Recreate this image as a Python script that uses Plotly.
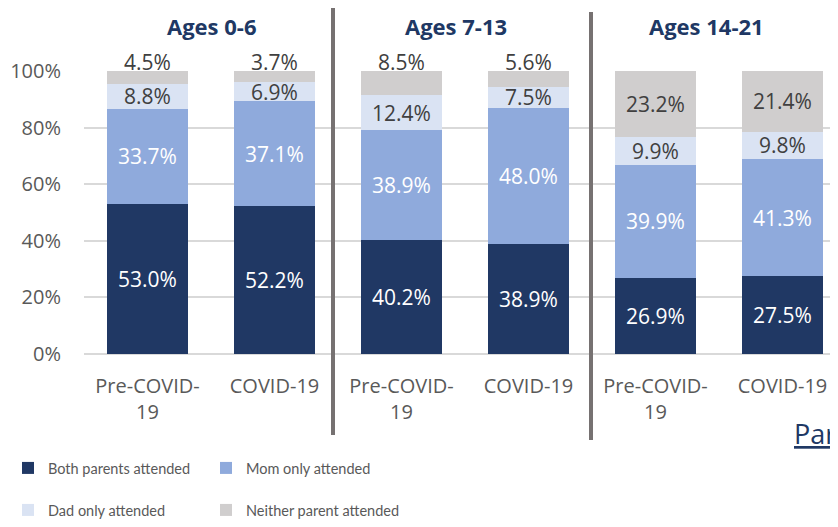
import plotly.graph_objects as go

groups = ["Ages 0-6", "Ages 7-13", "Ages 14-21"]
periods = ["Pre-COVID-<br>19", "COVID-19"]
tick_labels = [p for g in groups for p in periods]
x_pos = list(range(len(tick_labels)))
y_ticks = [0, 20, 40, 60, 80, 100]
y_tick_labels = ["0%", "20%", "40%", "60%", "80%", "100%"]

both = [53.0, 52.2, 40.2, 38.9, 26.9, 27.5]
mom = [33.7, 37.1, 38.9, 48.0, 39.9, 41.3]
dad = [8.8, 6.9, 12.4, 7.5, 9.9, 9.8]
neither = [4.5, 3.7, 8.5, 5.6, 23.2, 21.4]
# which "Neither" labels sit above the bar instead of inside it
neither_above = [True, True, True, True, False, False]

series = [
    ("Both parents attended", both, "#203864", "white", "legend"),
    ("Mom only attended", mom, "#8faadc", "white", "legend"),
    ("Dad only attended", dad, "#dae3f3", "#404040", "legend2"),
    ("Neither parent attended", neither, "#d0cece", "#404040", "legend2"),
]

FONT = "Open Sans, Lato, sans-serif"
LEG_FONT = "Lato, Open Sans, sans-serif"

fig = go.Figure()
for name, vals, col, tcol, leg in series:
    if vals is neither:
        labels = ["" if a else "%.1f%%" % v for v, a in zip(vals, neither_above)]
    else:
        labels = ["%.1f%%" % v for v in vals]
    fig.add_trace(go.Bar(
        x=x_pos, y=vals, name=name, marker=dict(color=col, line=dict(width=0)),
        text=labels, textposition="inside",
        insidetextanchor="middle", constraintext="none",
        insidetextfont=dict(color=tcol, size=21, family=FONT),
        cliponaxis=False, legend=leg, hoverinfo="skip",
    ))

# page body has an 8px margin: figure coords = screen coords - 8
OFF = 8
W, H = 838, 527
L, R, T = 84 - OFF, 0, 71 - OFF
B = H - (354 - OFF)
pw, ph = W - L - R, H - T - B

def px(xp):
    return (xp - OFF - L) / pw

def py(yp):
    return (H - B - (yp - OFF)) / ph

shapes = [
    dict(type="line", xref="paper", yref="paper", x0=px(333), x1=px(333), y0=py(5), y1=py(435),
         line=dict(color="#767171", width=4)),
    dict(type="line", xref="paper", yref="paper", x0=px(591), x1=px(591), y0=py(12), y1=py(440),
         line=dict(color="#767171", width=4)),
]

title_x = [212, 456, 706]
annotations = [
    dict(text="<b>%s</b>" % g, xref="paper", yref="paper", x=px(tx), y=py(OFF + 1),
         showarrow=False, xanchor="center", yanchor="top",
         font=dict(size=22, color="#203864", family=FONT))
    for g, tx in zip(groups, title_x)
]
# labels of thin top segments, placed just above the stack
for i, above in enumerate(neither_above):
    if above:
        total = both[i] + mom[i] + dad[i] + neither[i]
        annotations.append(dict(text="%.1f%%" % neither[i], x=x_pos[i], y=total,
                                xref="x", yref="y", showarrow=False,
                                xanchor="center", yanchor="middle", yshift=9,
                                font=dict(size=21, color="#404040", family=FONT)))
annotations.append(dict(text="<u>Par</u>", xref="paper", yref="paper", x=px(838), y=py(433),
                        showarrow=False, xanchor="right", yanchor="middle",
                        font=dict(size=27, color="#203864", family=FONT)))

leg_common = dict(orientation="h", xref="container", yref="container",
                  xanchor="left", yanchor="middle", traceorder="normal",
                  entrywidth=153, entrywidthmode="pixels",
                  font=dict(size=14.5, color="#595959", family=LEG_FONT),
                  bgcolor="rgba(0,0,0,0)")

fig.update_layout(
    width=W, height=H, margin=dict(l=L, r=R, t=T, b=B, autoexpand=False),
    barmode="stack", bargap=0.36,
    plot_bgcolor="white", paper_bgcolor="white",
    font=dict(family=FONT, color="#595959"),
    xaxis=dict(range=[-0.5, -0.5 + pw / 127.0], tickvals=x_pos, ticktext=tick_labels,
               showgrid=False, zeroline=False, showline=False, ticks="", automargin=False,
               tickfont=dict(size=20, color="#595959", family=FONT), ticklabelstandoff=18),
    yaxis=dict(range=[0, 100], tickvals=y_ticks, ticktext=y_tick_labels,
               showgrid=True, gridcolor="#d9d9d9", gridwidth=1.5,
               zeroline=True, zerolinecolor="#d9d9d9", zerolinewidth=1.5,
               showline=False, ticks="", ticklabelstandoff=22, automargin=False,
               tickfont=dict(size=20, color="#595959", family=FONT)),
    legend=dict(leg_common, x=-14 / W, y=1 - (468 - OFF) / H),
    legend2=dict(leg_common, x=-14 / W, y=1 - (510 - OFF) / H),
    shapes=shapes, annotations=annotations, showlegend=True,
)

fig.write_html("out.html")
